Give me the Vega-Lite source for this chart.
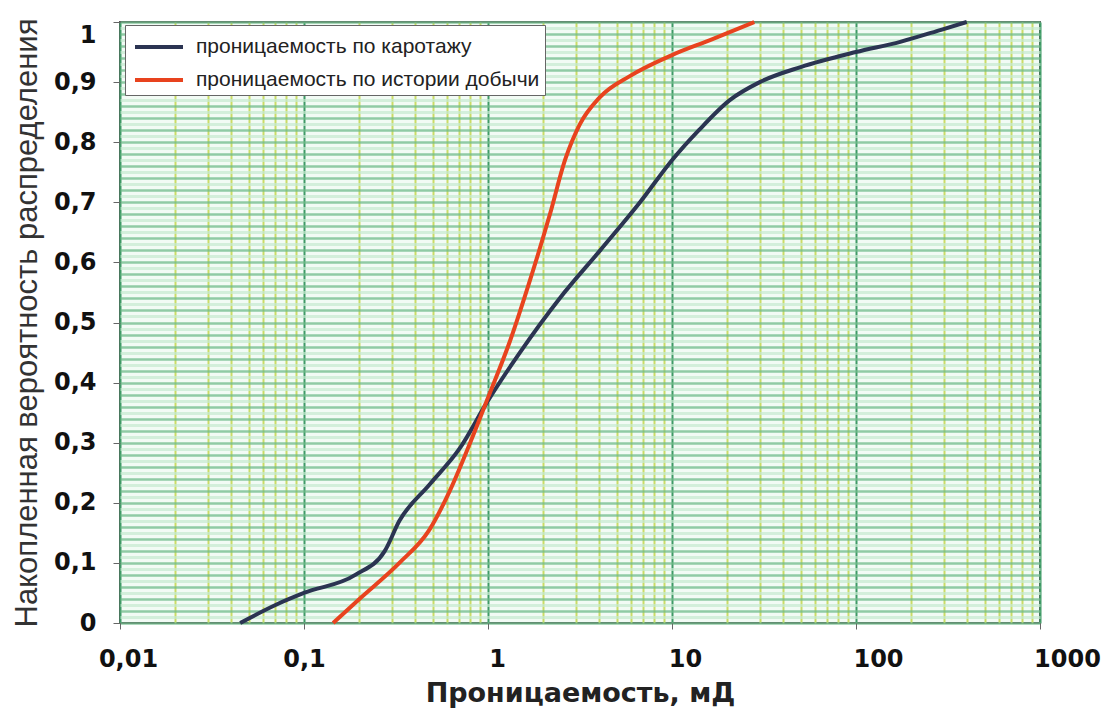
{
  "$schema": "https://vega.github.io/schema/vega-lite/v6.json",
  "autosize": "none",
  "width": 920,
  "height": 601,
  "padding": {"left": 120, "top": 22, "right": 66, "bottom": 92},
  "background": "white",
  "config": {
    "view": {"fill": "#f2fbf5", "stroke": "#555555", "strokeWidth": 2},
    "font": "Liberation Sans"
  },
  "data": {
    "values": [
      {"s": "проницаемость по каротажу", "k": 0.045, "p": 0.0},
      {"s": "проницаемость по каротажу", "k": 0.07, "p": 0.03},
      {"s": "проницаемость по каротажу", "k": 0.1, "p": 0.05},
      {"s": "проницаемость по каротажу", "k": 0.19, "p": 0.08},
      {"s": "проницаемость по каротажу", "k": 0.275, "p": 0.12},
      {"s": "проницаемость по каротажу", "k": 0.33, "p": 0.17},
      {"s": "проницаемость по каротажу", "k": 0.48, "p": 0.23},
      {"s": "проницаемость по каротажу", "k": 0.7, "p": 0.29},
      {"s": "проницаемость по каротажу", "k": 1.0, "p": 0.37},
      {"s": "проницаемость по каротажу", "k": 1.49, "p": 0.45},
      {"s": "проницаемость по каротажу", "k": 2.45, "p": 0.54},
      {"s": "проницаемость по каротажу", "k": 4.07, "p": 0.62},
      {"s": "проницаемость по каротажу", "k": 6.7, "p": 0.7},
      {"s": "проницаемость по каротажу", "k": 10, "p": 0.77},
      {"s": "проницаемость по каротажу", "k": 14, "p": 0.82},
      {"s": "проницаемость по каротажу", "k": 20.6, "p": 0.87},
      {"s": "проницаемость по каротажу", "k": 30, "p": 0.9},
      {"s": "проницаемость по каротажу", "k": 50, "p": 0.925},
      {"s": "проницаемость по каротажу", "k": 100, "p": 0.95},
      {"s": "проницаемость по каротажу", "k": 174, "p": 0.967},
      {"s": "проницаемость по каротажу", "k": 290, "p": 0.987},
      {"s": "проницаемость по каротажу", "k": 400, "p": 1.0},
      {"s": "проницаемость по истории добычи", "k": 0.144, "p": 0.0},
      {"s": "проницаемость по истории добычи", "k": 0.2, "p": 0.04},
      {"s": "проницаемость по истории добычи", "k": 0.33, "p": 0.1},
      {"s": "проницаемость по истории добычи", "k": 0.48, "p": 0.155},
      {"s": "проницаемость по истории добычи", "k": 0.62, "p": 0.22},
      {"s": "проницаемость по истории добычи", "k": 0.8, "p": 0.3},
      {"s": "проницаемость по истории добычи", "k": 1.0, "p": 0.375},
      {"s": "проницаемость по истории добычи", "k": 1.32, "p": 0.47},
      {"s": "проницаемость по истории добычи", "k": 1.69, "p": 0.57},
      {"s": "проницаемость по истории добычи", "k": 2.17, "p": 0.68},
      {"s": "проницаемость по истории добычи", "k": 2.62, "p": 0.77},
      {"s": "проницаемость по истории добычи", "k": 3.16, "p": 0.83},
      {"s": "проницаемость по истории добычи", "k": 4.06, "p": 0.875},
      {"s": "проницаемость по истории добычи", "k": 5.9, "p": 0.91},
      {"s": "проницаемость по истории добычи", "k": 10, "p": 0.945},
      {"s": "проницаемость по истории добычи", "k": 16.1, "p": 0.97},
      {"s": "проницаемость по истории добычи", "k": 28, "p": 1.0}
    ]
  },
  "mark": {"type": "line", "strokeWidth": 4, "interpolate": "monotone", "clip": false},
  "encoding": {
    "x": {
      "field": "k",
      "type": "quantitative",
      "scale": {"type": "log", "domain": [0.01, 1000], "nice": false},
      "axis": {
        "title": "Проницаемость, мД",
        "titleFont": "DejaVu Sans",
        "titleFontSize": 27,
        "titleFontWeight": "bold",
        "titleColor": "#222222",
        "titlePadding": 9,
        "labelFont": "DejaVu Sans",
        "labelFontSize": 24,
        "labelFontWeight": "bold",
        "labelColor": "#111111",
        "labelPadding": 18,
        "labelFlush": false,
        "labelOverlap": false,
        "values": [0.01,0.02,0.03,0.04,0.05,0.06,0.07,0.08,0.09,0.1,0.2,0.3,0.4,0.5,0.6,0.7,0.8,0.9,1,2,3,4,5,6,7,8,9,10,20,30,40,50,60,70,80,90,100,200,300,400,500,600,700,800,900,1000],
        "labelExpr": "indexof([0.01,0.1,1,10,100,1000], datum.value) >= 0 ? replace(datum.value + '', '.', ',') : ''",
        "labelOffset": {
          "condition": [
            {"test": "datum.value == 0.01", "value": 8},
            {"test": "datum.value == 1", "value": 9},
            {"test": "datum.value == 10", "value": 13},
            {"test": "datum.value == 100", "value": 22},
            {"test": "datum.value == 1000", "value": 27}
          ],
          "value": 0
        },
        "domain": false,
        "tickColor": "#666666",
        "tickSize": 6,
        "tickOpacity": {"condition": {"test": "indexof([0.01,0.1,1,10,100,1000], datum.value) >= 0", "value": 1}, "value": 0},
        "grid": true,
        "gridColor": {"condition": {"test": "indexof([0.01,0.1,1,10,100,1000], datum.value) >= 0", "value": "#3f9a66"}, "value": "#cadc66"},
        "gridWidth": 2,
        "gridOpacity": 1
      }
    },
    "y": {
      "field": "p",
      "type": "quantitative",
      "scale": {"domain": [0, 1], "nice": false, "zero": true},
      "axis": {
        "title": "Накопленная вероятность распределения",
        "titleFont": "Liberation Sans",
        "titleFontSize": 31,
        "titleFontWeight": "normal",
        "titleColor": "#333333",
        "titlePadding": 10,
        "labelFont": "DejaVu Sans",
        "labelFontSize": 24,
        "labelFontWeight": "bold",
        "labelColor": "#111111",
        "labelPadding": 17,
        "labelFlush": false,
        "labelOverlap": false,
        "values": [0,0.01,0.02,0.03,0.04,0.05,0.06,0.07,0.08,0.09,0.1,0.11,0.12,0.13,0.14,0.15,0.16,0.17,0.18,0.19,0.2,0.21,0.22,0.23,0.24,0.25,0.26,0.27,0.28,0.29,0.3,0.31,0.32,0.33,0.34,0.35,0.36,0.37,0.38,0.39,0.4,0.41,0.42,0.43,0.44,0.45,0.46,0.47,0.48,0.49,0.5,0.51,0.52,0.53,0.54,0.55,0.56,0.57,0.58,0.59,0.6,0.61,0.62,0.63,0.64,0.65,0.66,0.67,0.68,0.69,0.7,0.71,0.72,0.73,0.74,0.75,0.76,0.77,0.78,0.79,0.8,0.81,0.82,0.83,0.84,0.85,0.86,0.87,0.88,0.89,0.9,0.91,0.92,0.93,0.94,0.95,0.96,0.97,0.98,0.99,1],
        "labelExpr": "round(datum.value*100) % 10 == 0 ? replace(format(datum.value, '.1~f'), '.', ',') : ''",
        "labelOffset": {"condition": {"test": "datum.value == 1", "value": 13}, "value": 0},
        "domain": false,
        "tickColor": "#666666",
        "tickSize": 7,
        "tickOpacity": {"condition": {"test": "round(datum.value*100) % 10 == 0", "value": 1}, "value": 0},
        "grid": true,
        "gridColor": {"condition": {"test": "round(datum.value*100) % 2 == 0", "value": "#6fbb8a"}, "value": "#c6ead0"},
        "gridWidth": {"condition": {"test": "round(datum.value*100) % 2 == 0", "value": 2.5}, "value": 3},
        "gridOpacity": {"condition": {"test": "round(datum.value*100) % 2 == 0", "value": 0.75}, "value": 0.7}
      }
    },
    "color": {
      "field": "s",
      "type": "nominal",
      "sort": ["проницаемость по каротажу", "проницаемость по истории добычи"],
      "scale": {"domain": ["проницаемость по каротажу", "проницаемость по истории добычи"], "range": ["#2b3452", "#e8431e"]},
      "legend": {
        "title": null,
        "orient": "none",
        "legendX": 5,
        "legendY": 3,
        "direction": "vertical",
        "fillColor": "white",
        "strokeColor": "#666666",
        "padding": 5,
        "rowPadding": 6,
        "symbolType": "M-1.6,0H1.6",
        "symbolSize": 900,
        "symbolOffset": 12,
        "symbolStrokeWidth": 4,
        "labelFont": "Liberation Sans",
        "labelFontSize": 21,
        "labelColor": "#222222",
        "labelOffset": 20,
        "labelLimit": 500
      }
    }
  }
}
